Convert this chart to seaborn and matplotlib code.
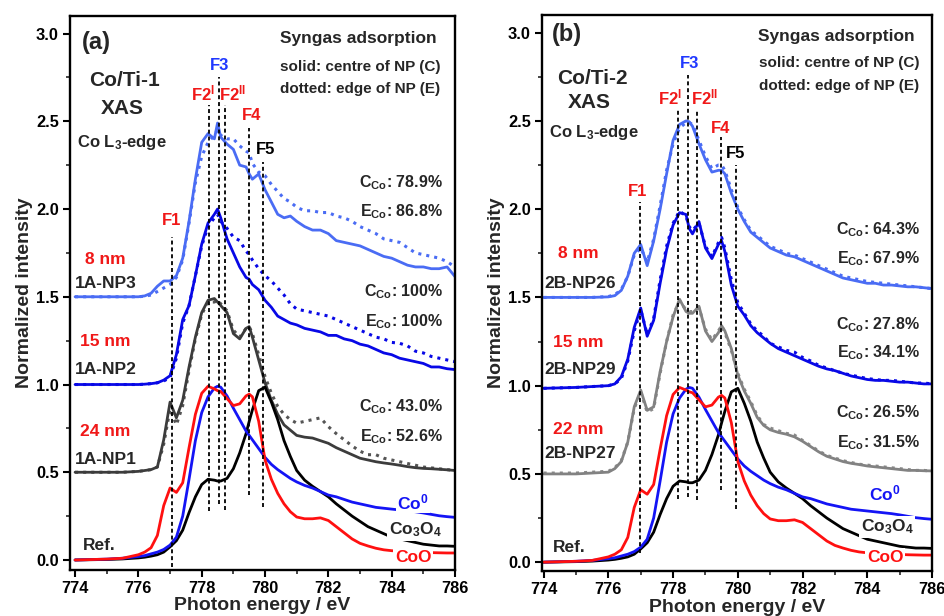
"""
Co L3-edge XAS of Co/Ti-1 and Co/Ti-2 nanoparticles under syngas,
centre (solid) vs edge (dotted) of NP, with Co0 / Co3O4 / CoO references.
"""

import matplotlib
matplotlib.use("Agg")
import matplotlib.pyplot as plt
import seaborn as sns

# ── Data ───────────────────────────────────────────────────────────────────
energy = [774.0, 775.0, 775.5, 776.0, 776.2, 776.4, 776.6, 776.8, 777.0, 777.2,
          777.4, 777.6, 777.8, 778.0, 778.2, 778.4, 778.5, 778.6, 778.8, 779.0,
          779.2, 779.4, 779.5, 779.6, 779.8, 780.0, 780.2, 780.4, 780.6, 780.8,
          781.0, 781.25, 781.5, 781.75, 782.0, 782.25, 782.5, 782.75, 783.0, 783.25,
          783.5, 783.75, 784.0, 784.25, 784.5, 784.75, 785.0, 785.25, 785.5, 785.75,
          786.0]

# references (same in both panels)
ref_coo = [0.0, 0.005, 0.01, 0.03, 0.045, 0.07, 0.14, 0.31, 0.41, 0.385,
           0.44, 0.64, 0.83, 0.95, 0.99, 0.975, 0.965, 0.96, 0.92, 0.88,
           0.89, 0.935, 0.945, 0.93, 0.79, 0.57, 0.46, 0.38, 0.32, 0.275,
           0.245, 0.235, 0.235, 0.24, 0.225, 0.19, 0.155, 0.12, 0.095, 0.08,
           0.067, 0.058, 0.053, 0.05, 0.048, 0.046, 0.044, 0.042, 0.041, 0.04,
           0.04]
ref_co0 = [0.0, 0.005, 0.01, 0.02, 0.025, 0.035, 0.045, 0.06, 0.085, 0.13,
           0.25, 0.46, 0.68, 0.84, 0.93, 0.98, 0.99, 0.985, 0.935, 0.865,
           0.80, 0.735, 0.71, 0.685, 0.635, 0.585, 0.545, 0.515, 0.49, 0.465,
           0.445, 0.425, 0.41, 0.39, 0.37, 0.36, 0.345, 0.33, 0.32, 0.31,
           0.30, 0.295, 0.29, 0.285, 0.28, 0.275, 0.268, 0.26, 0.252, 0.247,
           0.243]
ref_co3o4 = [0.0, 0.003, 0.006, 0.012, 0.016, 0.022, 0.03, 0.045, 0.075, 0.11,
             0.17, 0.27, 0.36, 0.43, 0.46, 0.455, 0.45, 0.45, 0.465, 0.52,
             0.61, 0.72, 0.79, 0.855, 0.965, 0.985, 0.90, 0.80, 0.68, 0.59,
             0.51, 0.455, 0.42, 0.39, 0.36, 0.32, 0.285, 0.25, 0.22, 0.19,
             0.17, 0.15, 0.13, 0.12, 0.11, 0.10, 0.09, 0.085, 0.08, 0.08,
             0.078]

# Co/Ti-1 (panel a)
np1_c = [0.50, 0.50, 0.50, 0.505, 0.51, 0.515, 0.53, 0.685, 0.90, 0.81,
         0.91, 1.10, 1.27, 1.41, 1.48, 1.49, 1.47, 1.45, 1.41, 1.29,
         1.26, 1.32, 1.33, 1.27, 1.14, 1.01, 0.91, 0.83, 0.77, 0.74,
         0.71, 0.70, 0.695, 0.68, 0.665, 0.64, 0.62, 0.60, 0.58, 0.57,
         0.56, 0.553, 0.547, 0.54, 0.532, 0.526, 0.522, 0.52, 0.517, 0.514,
         0.51]
np1_e = [0.50, 0.50, 0.50, 0.505, 0.51, 0.515, 0.53, 0.66, 0.86, 0.77,
         0.88, 1.08, 1.26, 1.40, 1.47, 1.47, 1.48, 1.46, 1.42, 1.31,
         1.27, 1.32, 1.33, 1.29, 1.17, 1.045, 0.95, 0.875, 0.83, 0.80,
         0.78, 0.79, 0.80, 0.81, 0.76, 0.72, 0.685, 0.65, 0.62, 0.60,
         0.60, 0.58, 0.57, 0.56, 0.55, 0.54, 0.53, 0.525, 0.52, 0.515,
         0.51]
np2_c = [1.0, 1.0, 1.0, 1.0, 1.002, 1.005, 1.01, 1.025, 1.05, 1.17,
         1.37, 1.45, 1.62, 1.80, 1.92, 1.97, 2.0, 1.95, 1.83, 1.75,
         1.67, 1.61, 1.60, 1.57, 1.54, 1.48, 1.44, 1.39, 1.37, 1.35,
         1.34, 1.32, 1.31, 1.30, 1.28, 1.28, 1.26, 1.25, 1.23, 1.22,
         1.20, 1.18, 1.17, 1.15, 1.14, 1.13, 1.12, 1.10, 1.10, 1.09,
         1.085]
np2_e = [1.0, 1.0, 1.0, 1.0, 1.002, 1.005, 1.01, 1.02, 1.04, 1.15,
         1.35, 1.45, 1.62, 1.79, 1.90, 1.95, 1.97, 1.93, 1.89, 1.84,
         1.82, 1.76, 1.74, 1.71, 1.66, 1.62, 1.59, 1.55, 1.51, 1.46,
         1.43, 1.42, 1.41, 1.40, 1.39, 1.37, 1.35, 1.33, 1.31, 1.29,
         1.27, 1.26, 1.24, 1.235, 1.22, 1.19, 1.18, 1.16, 1.15, 1.14,
         1.13]
np3_c = [1.5, 1.5, 1.5, 1.5, 1.505, 1.52, 1.56, 1.59, 1.59, 1.62,
         1.72, 1.93, 2.17, 2.38, 2.43, 2.40, 2.49, 2.41, 2.37, 2.34,
         2.25, 2.24, 2.20, 2.17, 2.20, 2.11, 2.04, 1.97, 1.95, 1.96,
         1.93, 1.90, 1.88, 1.88, 1.86, 1.82, 1.81, 1.80, 1.79, 1.77,
         1.75, 1.73, 1.72, 1.70, 1.68, 1.67, 1.67, 1.66, 1.66, 1.67,
         1.615]
np3_e = [1.5, 1.5, 1.5, 1.5, 1.503, 1.51, 1.53, 1.55, 1.57, 1.61,
         1.71, 1.92, 2.15, 2.30, 2.38, 2.42, 2.45, 2.42, 2.40, 2.40,
         2.36, 2.33, 2.32, 2.26, 2.21, 2.19, 2.14, 2.10, 2.06, 2.04,
         2.01, 1.99, 1.99, 1.98, 1.98, 1.96, 1.95, 1.93, 1.90, 1.88,
         1.86, 1.83, 1.82, 1.81, 1.78, 1.75, 1.74, 1.73, 1.72, 1.70,
         1.67]

# Co/Ti-2 (panel b)
np27_c = [0.50, 0.50, 0.505, 0.51, 0.53, 0.57, 0.68, 0.88, 0.975, 0.86,
          0.88, 1.08, 1.25, 1.39, 1.49, 1.42, 1.41, 1.41, 1.45, 1.31,
          1.25, 1.30, 1.34, 1.31, 1.21, 1.06, 0.97, 0.90, 0.82, 0.775,
          0.75, 0.735, 0.725, 0.71, 0.685, 0.655, 0.625, 0.60, 0.585, 0.57,
          0.56, 0.553, 0.545, 0.54, 0.535, 0.53, 0.525, 0.52, 0.52, 0.518,
          0.517]
np27_e = [0.505, 0.505, 0.51, 0.515, 0.535, 0.575, 0.68, 0.87, 0.965, 0.85,
          0.87, 1.07, 1.25, 1.40, 1.48, 1.43, 1.42, 1.42, 1.44, 1.32,
          1.26, 1.31, 1.34, 1.30, 1.20, 1.07, 0.98, 0.91, 0.83, 0.78,
          0.76, 0.745, 0.73, 0.72, 0.69, 0.66, 0.63, 0.605, 0.59, 0.575,
          0.565, 0.555, 0.55, 0.545, 0.54, 0.535, 0.53, 0.525, 0.52, 0.52,
          0.515]
np29_c = [0.985, 0.99, 0.995, 1.0, 1.01, 1.05, 1.15, 1.33, 1.44, 1.28,
          1.37, 1.58, 1.77, 1.91, 1.98, 1.97, 1.89, 1.86, 1.93, 1.78,
          1.72, 1.80, 1.82, 1.76, 1.57, 1.45, 1.40, 1.34, 1.30, 1.27,
          1.24, 1.21, 1.19, 1.17, 1.15, 1.13, 1.11, 1.095, 1.085, 1.07,
          1.055, 1.045, 1.035, 1.03, 1.03, 1.025, 1.02, 1.02, 1.015, 1.01,
          1.01]
np29_e = [0.985, 0.99, 0.995, 1.0, 1.01, 1.04, 1.14, 1.31, 1.43, 1.29,
          1.38, 1.60, 1.79, 1.92, 1.99, 1.96, 1.90, 1.88, 1.92, 1.79,
          1.73, 1.81, 1.84, 1.78, 1.60, 1.47, 1.41, 1.35, 1.31, 1.28,
          1.24, 1.22, 1.20, 1.19, 1.16, 1.14, 1.115, 1.10, 1.085, 1.07,
          1.06, 1.05, 1.04, 1.035, 1.03, 1.03, 1.025, 1.02, 1.015, 1.015,
          1.01]
np26_c = [1.5, 1.5, 1.5, 1.503, 1.51, 1.54, 1.62, 1.75, 1.80, 1.68,
          1.82, 2.0, 2.20, 2.39, 2.48, 2.50, 2.495, 2.47, 2.37, 2.28,
          2.21, 2.22, 2.22, 2.20, 2.09, 2.00, 1.93, 1.87, 1.84, 1.81,
          1.78, 1.76, 1.74, 1.73, 1.71, 1.69, 1.67, 1.65, 1.63, 1.61,
          1.60, 1.59, 1.58, 1.58, 1.57, 1.57, 1.565, 1.56, 1.56, 1.555,
          1.55]
np26_e = [1.5, 1.5, 1.5, 1.505, 1.515, 1.545, 1.62, 1.74, 1.78, 1.70,
          1.83, 2.02, 2.22, 2.37, 2.46, 2.49, 2.49, 2.48, 2.39, 2.30,
          2.23, 2.25, 2.25, 2.22, 2.11, 2.01, 1.94, 1.88, 1.85, 1.82,
          1.79, 1.77, 1.75, 1.74, 1.72, 1.70, 1.68, 1.66, 1.64, 1.62,
          1.61, 1.60, 1.59, 1.585, 1.58, 1.575, 1.57, 1.565, 1.56, 1.555,
          1.55]

# feature markers F1, F2I, F3, F2II, F4, F5 (energy, top, bottom of dashed line)
feat_a_e = [777.05, 778.24, 778.55, 778.74, 779.49, 779.93]
feat_a_top = [1.84, 2.59, 2.75, 2.59, 2.46, 2.27]
feat_a_bot = [-0.04, 0.28, 0.32, 0.285, 0.37, 0.30]
feat_b_e = [776.97, 778.15, 778.46, 778.75, 779.49, 779.93]
feat_b_top = [2.04, 2.57, 2.76, 2.57, 2.41, 2.25]
feat_b_bot = [0.05, 0.36, 0.37, 0.35, 0.41, 0.30]

feat_names = ["F1", r"F2$^{\mathregular{I}}$", "F3", r"F2$^{\mathregular{II}}$", "F4", "F5"]
feat_colors = ["#f01818", "#f01818", "#2038ff", "#f01818", "#f01818", "black"]

c_a = ["78.9%", "100%", "43.0%"]
e_a = ["86.8%", "100%", "52.6%"]
c_b = ["64.3%", "27.8%", "26.5%"]
e_b = ["67.9%", "34.1%", "31.5%"]

# ── Style ──────────────────────────────────────────────────────────────────
W, H = 944, 616
RED = "#f01818"
LIGHT = "#4a6cf4"
BLUE = "#0808e6"

sns.set_theme(style="ticks")
plt.rcParams["font.family"] = ["Liberation Sans", "DejaVu Sans"]
plt.rcParams["font.weight"] = "bold"
plt.rcParams["axes.labelweight"] = "bold"
plt.rcParams["mathtext.fontset"] = "custom"
plt.rcParams["mathtext.rm"] = "Liberation Sans:bold"
plt.rcParams["mathtext.it"] = "Liberation Sans:bold"
plt.rcParams["mathtext.bf"] = "Liberation Sans:bold"
plt.rcParams["mathtext.default"] = "rm"

fig = plt.figure(figsize=(W / 100, H / 100), dpi=100)
fig.patch.set_facecolor("white")


def put(x, y, s, **kw):
    # place text at a figure pixel position (y measured from the top)
    kw.setdefault("ha", "center")
    kw.setdefault("va", "center")
    fig.text(x / W, 1 - y / H, s, **kw)


panels = [
    dict(rect=[70, 16, 455, 570], xlim=(773.84, 786.0), ylim=(-0.057, 3.10),
         curves=[(np3_e, LIGHT, ":"), (np3_c, LIGHT, "-"),
                 (np2_e, BLUE, ":"), (np2_c, BLUE, "-"),
                 (np1_e, "#555555", ":"), (np1_c, "#3c3c3c", "-")],
         feat=(feat_a_e, feat_a_top, feat_a_bot)),
    dict(rect=[542, 15, 932, 571], xlim=(773.95, 786.0), ylim=(-0.05, 3.10),
         curves=[(np26_e, LIGHT, ":"), (np26_c, LIGHT, "-"),
                 (np29_e, BLUE, ":"), (np29_c, BLUE, "-"),
                 (np27_e, "#8a8a8a", ":"), (np27_c, "#828282", "-")],
         feat=(feat_b_e, feat_b_top, feat_b_bot)),
]

for p in panels:
    l, t, r, b = p["rect"]
    ax = fig.add_axes([l / W, 1 - b / H, (r - l) / W, (b - t) / H])

    for vals, col, ls in p["curves"]:
        sns.lineplot(x=energy, y=vals, ax=ax, color=col, lw=2.2 if ls == ":" else 2.0,
                     linestyle=ls, estimator=None, sort=False)
    sns.lineplot(x=energy, y=ref_co3o4, ax=ax, color="black", lw=2.0, estimator=None, sort=False)
    sns.lineplot(x=energy, y=ref_co0, ax=ax, color="#1414f5", lw=2.0, estimator=None, sort=False)
    sns.lineplot(x=energy, y=ref_coo, ax=ax, color="#ff1010", lw=2.0, estimator=None, sort=False)

    fe, ft, fb = p["feat"]
    ax.vlines(fe, fb, ft, colors="black", lw=1.3, linestyles=(0, (2.2, 1.6)), zorder=3)

    ax.set_xlim(*p["xlim"])
    ax.set_ylim(*p["ylim"])
    ax.set_xticks([774, 776, 778, 780, 782, 784, 786])
    ax.set_xticks(range(775, 786, 2), minor=True)
    ax.set_yticks([0.0, 0.5, 1.0, 1.5, 2.0, 2.5, 3.0])
    ax.set_yticks([0.25, 0.75, 1.25, 1.75, 2.25, 2.75], minor=True)
    ax.set_yticklabels([f"{v:.1f}" for v in ax.get_yticks()])
    ax.tick_params(which="major", direction="out", length=5, width=1.5,
                   labelsize=11.8, pad=3, colors="black")
    ax.tick_params(which="minor", direction="out", length=3, width=1.2)
    for s in ax.spines.values():
        s.set_linewidth(1.7)
        s.set_color("black")
        s.set_visible(True)
    ax.set_xlabel("Photon energy / eV", fontsize=14, labelpad=1)
    ax.set_ylabel("Normalized intensity", fontsize=14, labelpad=2)

# ── Annotations ────────────────────────────────────────────────────────────
BIG = 12.5
box = dict(facecolor="white", edgecolor="none", pad=1.0)

# panel (a)
put(82, 42, "(a)", ha="left", fontsize=17)
put(124, 81, "Co/Ti-1", fontsize=15)
put(122, 109, "XAS", fontsize=15)
put(122, 142, r"Co L$_3$-edge", fontsize=12)
put(358, 38, "Syngas adsorption", fontsize=12.5)
put(360, 67, "solid: centre of NP (C)", fontsize=11)
put(360, 89, "dotted: edge of NP (E)", fontsize=11)
for (yc, ye), cv, ev in zip([(183, 212), (292, 322), (407, 437)], c_a, e_a):
    put(443, yc, r"C$_{Co}$: " + cv, ha="right", fontsize=11.5)
    put(443, ye, r"E$_{Co}$: " + ev, ha="right", fontsize=11.5)
for y, s in zip([260, 342, 432], ["8 nm", "15 nm", "24 nm"]):
    put(105, y, s, color=RED, fontsize=BIG)
for y, s in zip([283, 370, 460], ["1A-NP3", "1A-NP2", "1A-NP1"]):
    put(106, y, s, fontsize=BIG)
put(99, 545, "Ref.", fontsize=BIG)
put(413, 502, r"Co$^0$", color="#1414f5", fontsize=BIG, bbox=box)
put(415, 530, r"Co$_3$O$_4$", fontsize=BIG, bbox=box)
put(413, 557, "CoO", color="#ff1010", fontsize=BIG, bbox=box)
for (x, y), s, c in zip([(172, 220), (203, 93), (220, 65), (233, 93), (252, 116), (266, 150)],
                        feat_names, feat_colors):
    put(x, y, s, color=c, fontsize=12)

# panel (b)
put(552, 35, "(b)", ha="left", fontsize=17)
put(592, 78, "Co/Ti-2", fontsize=15)
put(589, 103, "XAS", fontsize=15)
put(594, 133, r"Co L$_3$-edge", fontsize=12)
put(836, 37, "Syngas adsorption", fontsize=12.5)
put(839, 63, "solid: centre of NP (C)", fontsize=11)
put(839, 86, "dotted: edge of NP (E)", fontsize=11)
for (yc, ye), cv, ev in zip([(230, 259), (325, 353), (413, 443)], c_b, e_b):
    put(920, yc, r"C$_{Co}$: " + cv, ha="right", fontsize=11.5)
    put(920, ye, r"E$_{Co}$: " + ev, ha="right", fontsize=11.5)
for y, s in zip([253, 343, 429], ["8 nm", "15 nm", "22 nm"]):
    put(578, y, s, color=RED, fontsize=BIG)
for y, s in zip([283, 370, 454], ["2B-NP26", "2B-NP29", "2B-NP27"]):
    put(580, y, s, fontsize=BIG)
put(569, 547, "Ref.", fontsize=BIG)
put(885, 493, r"Co$^0$", color="#1414f5", fontsize=BIG, bbox=box)
put(887, 527, r"Co$_3$O$_4$", fontsize=BIG, bbox=box)
put(885, 557, "CoO", color="#ff1010", fontsize=BIG, bbox=box)
for (x, y), s, c in zip([(638, 191), (670, 97), (690, 63), (705, 97), (721, 128), (736, 154)],
                        feat_names, feat_colors):
    put(x, y, s, color=c, fontsize=12)

fig.savefig("out.png", dpi=100, facecolor="white")
